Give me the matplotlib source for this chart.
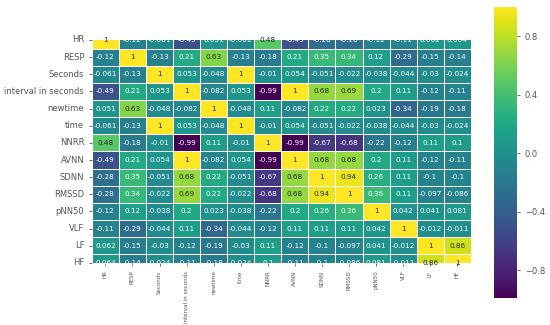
import matplotlib
matplotlib.use("Agg")
import matplotlib.pyplot as plt
from matplotlib import font_manager
import seaborn as sns
import numpy as np
import pandas as pd

labels = ["HR", "RESP", "Seconds", "interval in seconds", "newtime", "time",
          "NNRR", "AVNN", "SDNN", "RMSSD", "pNN50", "VLF", "LF", "HF"]

hr = [1, -0.12, -0.061, -0.49, 0.051, -0.061, 0.48, -0.49, -0.28, -0.28, -0.12, -0.11, 0.062, 0.064]
resp = [-0.12, 1, -0.13, 0.21, 0.63, -0.13, -0.18, 0.21, 0.35, 0.34, 0.12, -0.29, -0.15, -0.14]
seconds = [-0.061, -0.13, 1, 0.053, -0.048, 1, -0.01, 0.054, -0.051, -0.022, -0.038, -0.044, -0.03, -0.024]
interval = [-0.49, 0.21, 0.053, 1, -0.082, 0.053, -0.99, 1, 0.68, 0.69, 0.2, 0.11, -0.12, -0.11]
newtime = [0.051, 0.63, -0.048, -0.082, 1, -0.048, 0.11, -0.082, 0.22, 0.22, 0.023, -0.34, -0.19, -0.18]
time_ = [-0.061, -0.13, 1, 0.053, -0.048, 1, -0.01, 0.054, -0.051, -0.022, -0.038, -0.044, -0.03, -0.024]
nnrr = [0.48, -0.18, -0.01, -0.99, 0.11, -0.01, 1, -0.99, -0.67, -0.68, -0.22, -0.12, 0.11, 0.1]
avnn = [-0.49, 0.21, 0.054, 1, -0.082, 0.054, -0.99, 1, 0.68, 0.68, 0.2, 0.11, -0.12, -0.11]
sdnn = [-0.28, 0.35, -0.051, 0.68, 0.22, -0.051, -0.67, 0.68, 1, 0.94, 0.26, 0.11, -0.1, -0.1]
rmssd = [-0.28, 0.34, -0.022, 0.69, 0.22, -0.022, -0.68, 0.68, 0.94, 1, 0.36, 0.11, -0.097, -0.086]
pnn50 = [-0.12, 0.12, -0.038, 0.2, 0.023, -0.038, -0.22, 0.2, 0.26, 0.36, 1, 0.042, 0.041, 0.081]
vlf = [-0.11, -0.29, -0.044, 0.11, -0.34, -0.044, -0.12, 0.11, 0.11, 0.11, 0.042, 1, -0.012, -0.011]
lf = [0.062, -0.15, -0.03, -0.12, -0.19, -0.03, 0.11, -0.12, -0.1, -0.097, 0.041, -0.012, 1, 0.86]
hf = [0.064, -0.14, -0.024, -0.11, -0.18, -0.024, 0.1, -0.11, -0.1, -0.086, 0.081, -0.011, 0.86, 1]

corr = pd.DataFrame([hr, resp, seconds, interval, newtime, time_, nnrr, avnn,
                     sdnn, rmssd, pnn50, vlf, lf, hf], index=labels, columns=labels)

# narrow font for the squeezed x labels if there is one
names = {f.name for f in font_manager.fontManager.ttflist}
narrow = "Liberation Sans Narrow" if "Liberation Sans Narrow" in names else "DejaVu Sans"
xsize = 5.2 if narrow != "DejaVu Sans" else 4.0

fig = plt.figure(figsize=(5.5, 3.25), dpi=100)
ax = fig.add_axes([0.167, 0.191, 0.689, 0.686])
cax = fig.add_axes([0.898, 0.083, 0.042, 0.895])

sns.heatmap(corr, annot=True, fmt=".2g", cmap="viridis", linewidths=0.6,
            linecolor="white", ax=ax, cbar_ax=cax, annot_kws={"size": 5.2})

# old matplotlib ylim glitch: half rows at top and bottom
ax.set_ylim(13.5, 0.5)

ax.tick_params(axis="y", labelsize=6, colors="#555555", length=2, width=0.6)
ax.tick_params(axis="x", labelsize=xsize, colors="#555555", length=2, width=0.6)
plt.setp(ax.get_yticklabels(), rotation=0)
plt.setp(ax.get_xticklabels(), rotation=90, family=narrow)

cax.tick_params(labelsize=6, colors="#555555", length=2, width=0.6)
cax.set_yticks([-0.8, -0.4, 0.0, 0.4, 0.8])

fig.savefig("out.png", dpi=100)
